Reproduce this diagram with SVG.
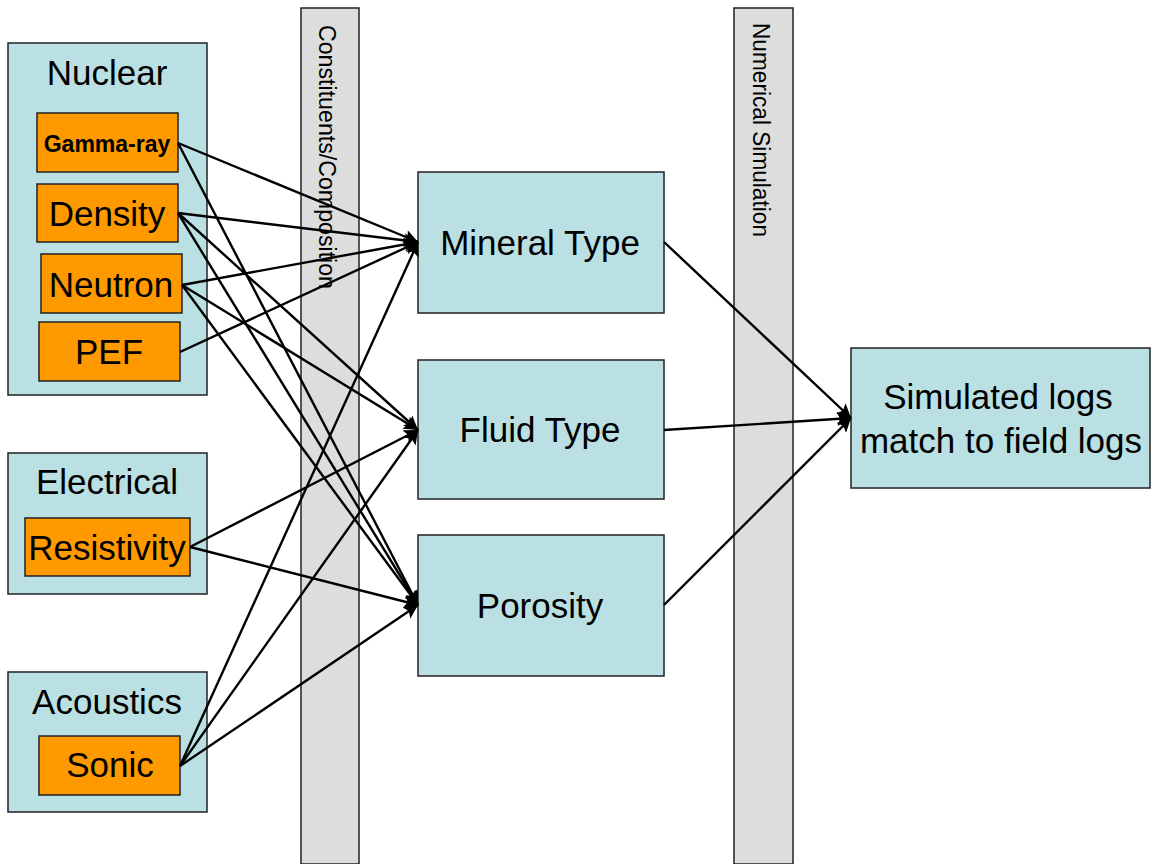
<svg xmlns="http://www.w3.org/2000/svg" width="1154" height="864" viewBox="0 0 1154 864">
<style>
.grp{fill:#BAE0E3;stroke:#222;stroke-width:1.5}
.src{fill:#FF9900;stroke:#222;stroke-width:1.5}
.box{fill:#BAE0E3;stroke:#222;stroke-width:1.5}
.bar{fill:#DDDDDD;stroke:#222;stroke-width:1.5}
text{font-family:"Liberation Sans",Arial,sans-serif;fill:#000}
.big{font-size:35px;text-anchor:middle}
.bar-t{font-size:23px}
.con line{stroke:#000;stroke-width:2.4;marker-end:url(#ah)}
</style>
<defs>
<marker id="ah" markerUnits="userSpaceOnUse" markerWidth="16" markerHeight="14" refX="14" refY="7" orient="auto">
<path d="M0,0 L14,7 L0,14 L3,7 z" fill="#000"/>
</marker>
</defs>
<rect width="1154" height="864" fill="#fff"/>
<g id="bar-constituents">
<rect class="bar" x="301" y="8" width="58" height="856"/>
<text class="bar-t" transform="translate(319,25) rotate(90)" font-size="25" textLength="264" lengthAdjust="spacingAndGlyphs">Constituents/Composition</text>
</g>
<g id="bar-numerical">
<rect class="bar" x="734" y="8" width="59" height="856"/>
<text class="bar-t" transform="translate(753,23) rotate(90)" textLength="214" lengthAdjust="spacingAndGlyphs">Numerical Simulation</text>
</g>
<g id="nuclear">
<rect class="grp" x="8" y="43" width="199" height="352"/>
<text class="big" x="107" y="85">Nuclear</text>
</g>
<g id="gamma-ray">
<rect class="src" x="37" y="113" width="141" height="59"/>
<text x="107" y="152" font-size="23" font-weight="bold" text-anchor="middle">Gamma-ray</text>
</g>
<g id="density">
<rect class="src" x="37" y="184" width="141" height="58"/>
<text class="big" x="107" y="226">Density</text>
</g>
<g id="neutron">
<rect class="src" x="41" y="254" width="141" height="59"/>
<text class="big" x="111" y="297">Neutron</text>
</g>
<g id="pef">
<rect class="src" x="39" y="322" width="141" height="59"/>
<text class="big" x="109" y="364">PEF</text>
</g>
<g id="electrical">
<rect class="grp" x="8" y="453" width="199" height="141"/>
<text class="big" x="107" y="494">Electrical</text>
</g>
<g id="resistivity">
<rect class="src" x="25" y="518" width="165" height="58"/>
<text class="big" x="107" y="560">Resistivity</text>
</g>
<g id="acoustics">
<rect class="grp" x="8" y="672" width="199" height="140"/>
<text class="big" x="107" y="714">Acoustics</text>
</g>
<g id="sonic">
<rect class="src" x="39" y="736" width="141" height="59"/>
<text class="big" x="110" y="777">Sonic</text>
</g>
<g id="mineral-type">
<rect class="box" x="418" y="172" width="246" height="141"/>
<text class="big" x="540" y="255">Mineral Type</text>
</g>
<g id="fluid-type">
<rect class="box" x="418" y="360" width="246" height="139"/>
<text class="big" x="540" y="442">Fluid Type</text>
</g>
<g id="porosity">
<rect class="box" x="418" y="535" width="246" height="141"/>
<text class="big" x="540" y="618">Porosity</text>
</g>
<g id="simulated-logs">
<rect class="box" x="851" y="348" width="299" height="140"/>
<text class="big" x="998" y="409">Simulated logs</text>
<text class="big" x="1001" y="453">match to field logs</text>
</g>
<g id="connectors" class="con">
<line x1="178" y1="143" x2="418" y2="242"/>
<line x1="178" y1="143" x2="418" y2="605"/>
<line x1="178" y1="213" x2="418" y2="242"/>
<line x1="178" y1="213" x2="418" y2="430"/>
<line x1="178" y1="213" x2="418" y2="605"/>
<line x1="182" y1="285" x2="418" y2="242"/>
<line x1="182" y1="285" x2="418" y2="430"/>
<line x1="182" y1="285" x2="418" y2="605"/>
<line x1="180" y1="352" x2="418" y2="242"/>
<line x1="190" y1="547" x2="418" y2="430"/>
<line x1="190" y1="547" x2="418" y2="605"/>
<line x1="180" y1="766" x2="418" y2="242"/>
<line x1="180" y1="766" x2="418" y2="430"/>
<line x1="180" y1="766" x2="418" y2="605"/>
<line x1="664" y1="242" x2="851" y2="418"/>
<line x1="664" y1="430" x2="851" y2="418"/>
<line x1="664" y1="605" x2="851" y2="418"/>
</g>
</svg>
